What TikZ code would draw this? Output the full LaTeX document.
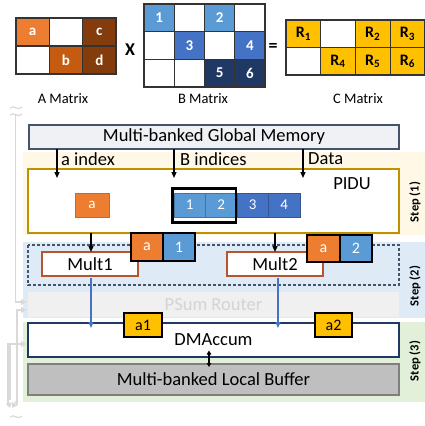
\documentclass[tikz,border=0pt]{standalone}
\usepackage{fontspec}
\setmainfont{Carlito}
\usetikzlibrary{arrows.meta}
\definecolor{cA}{HTML}{ED7D31}
\definecolor{cB}{HTML}{C55A11}
\definecolor{cC}{HTML}{843C0C}
\definecolor{bA}{HTML}{5B9BD5}
\definecolor{bB}{HTML}{4472C4}
\definecolor{bC}{HTML}{1F3864}
\definecolor{gold}{HTML}{FFC000}
\definecolor{ybg}{HTML}{FFF8E6}
\definecolor{bbg}{HTML}{DEEBF7}
\definecolor{gbg}{HTML}{E2F0D9}
\definecolor{gmfill}{HTML}{F0F1F4}
\definecolor{slate}{HTML}{44546A}
\definecolor{piduc}{HTML}{BF9000}
\definecolor{multc}{HTML}{B4552D}
\definecolor{psumf}{HTML}{F0F0F0}
\definecolor{psumt}{HTML}{D4D4D4}
\definecolor{lbf}{HTML}{BFBFBF}
\definecolor{lbd}{HTML}{7F7F7F}
\definecolor{ghost}{HTML}{D9D9D9}
\newcommand\szBig{\fontsize{18.5}{20}\selectfont}
\newcommand\szLab{\fontsize{14.5}{16}\selectfont}
\newcommand\szCell{\fontsize{15}{16}\selectfont}
\begin{document}
\begin{tikzpicture}[x=1pt,y=-1pt,
  box/.style={inner sep=0pt, outer sep=0pt, anchor=north west},
  mcell/.style={box, draw=black!80, line width=1.2pt, text=white, font=\bfseries\szCell},
  acell/.style={mcell, minimum width=33.33pt, minimum height=28pt},
  bcell/.style={mcell, minimum width=30.25pt, minimum height=27.67pt},
  ccell/.style={mcell, minimum width=34.7pt, minimum height=27.5pt, text=black, font=\bfseries\fontsize{16}{17}\selectfont},
  lab/.style={font=\szLab, inner sep=0pt},
  big/.style={font=\szBig, inner sep=0pt},
  arr/.style={line width=1.3pt, -{Triangle[length=6pt,width=5pt]}},
  barr/.style={line width=1.3pt, bB, -{Triangle[length=6pt,width=5pt]}},
  garr/.style={line width=1.2pt, ghost, -{Triangle[length=5pt,width=6pt]}},
  gline/.style={line width=1.2pt, ghost},
  tok/.style={box, minimum height=24pt, text=white, font=\szCell},
  stepl/.style={rotate=90, font=\bfseries\fontsize{12.5}{13}\selectfont, inner sep=0pt}
]
\useasboundingbox (0,0) rectangle (425,426);

% ---------- matrices ----------
\node[acell,fill=cA] (a11) at (16,18) {a};
\node[acell] (a12) at (49.33,18) {};
\node[acell,fill=cC] (a13) at (82.67,18) {c};
\node[acell] (a21) at (16,46) {};
\node[acell,fill=cB] (a22) at (49.33,46) {b};
\node[acell,fill=cC] (a23) at (82.67,46) {d};
\node[font=\bfseries\fontsize{18}{18}\selectfont, inner sep=0pt] (times) at (130,50) {X};
\node[lab] (alab) at (63,99) {A Matrix};

\node[bcell,fill=bA] (b11) at (144,4) {1};
\node[bcell] (b12) at (174.25,4) {};
\node[bcell,fill=bA] (b13) at (204.5,4) {2};
\node[bcell] (b14) at (234.75,4) {};
\node[bcell] (b21) at (144,31.67) {};
\node[bcell,fill=bB] (b22) at (174.25,31.67) {3};
\node[bcell] (b23) at (204.5,31.67) {};
\node[bcell,fill=bB] (b24) at (234.75,31.67) {4};
\node[bcell] (b31) at (144,59.33) {};
\node[bcell] (b32) at (174.25,59.33) {};
\node[bcell,fill=bC] (b33) at (204.5,59.33) {5};
\node[bcell,fill=bC] (b34) at (234.75,59.33) {6};
\node[font=\bfseries\fontsize{18}{18}\selectfont, inner sep=0pt] (eq) at (273,47) {=};
\node[lab] (blab) at (203,99) {B Matrix};

\node[ccell,fill=gold] (c11) at (286,20) {R\textsubscript{1}};
\node[ccell] (c12) at (320.7,20) {};
\node[ccell,fill=gold] (c13) at (355.4,20) {R\textsubscript{2}};
\node[ccell,fill=gold] (c14) at (390.1,20) {R\textsubscript{3}};
\node[ccell] (c21) at (286,47.5) {};
\node[ccell,fill=gold] (c22) at (320.7,47.5) {R\textsubscript{4}};
\node[ccell,fill=gold] (c23) at (355.4,47.5) {R\textsubscript{5}};
\node[ccell,fill=gold] (c24) at (390.1,47.5) {R\textsubscript{6}};
\node[lab] (clab) at (358,99) {C Matrix};

% ---------- step backgrounds ----------
\fill[ybg] (23,152) rectangle (425,235);
\fill[bbg] (23,242) rectangle (425,318);
\fill[gbg] (23,322) rectangle (425,402);

% ---------- ghost lines on the left ----------
\draw[gline] (10,108) .. controls (14,104) and (18,112) .. (22,107);
\draw[gline] (10,115) .. controls (14,111) and (18,119) .. (22,114);
\coordinate (g1) at (26,302);
\coordinate (g2) at (26,310);
\coordinate (g3) at (26,344);
\draw[garr] (15.5,115) |- (g1);
\draw[garr] (17,405) |- (g2);
\draw[garr] (8,405) |- (g3);
\draw[gline] (10,344) -- (10,400);
\draw[garr] (17,400) -- (12,408);
\draw[garr] (8,400) -- (10,408);
\draw[gline] (10,417) .. controls (14,413) and (18,421) .. (22,416);

% ---------- global memory ----------
\node[box, draw=slate, line width=1.2pt, fill=gmfill, minimum width=370pt, minimum height=24pt, font=\szBig] (gm) at (29,125) {Multi-banked Global Memory};

% ---------- PIDU ----------
\node[box, draw=piduc, line width=1.2pt, fill=white, minimum width=371pt, minimum height=64pt] (pidu) at (28,169) {};
\node[big] (pidul) at (352,184) {PIDU};
\coordinate (t1) at (57,178);
\coordinate (t2) at (174,178);
\coordinate (t3) at (303,178);
\draw[arr] (gm.south -| t1) -- (t1);
\draw[arr] (gm.south -| t2) -- (t2);
\draw[arr] (gm.south -| t3) -- (t3);
\node[big, anchor=west] (l1) at (61,159) {a index};
\node[big, anchor=west] (l2) at (180,159) {B indices};
\node[big, anchor=west] (l3) at (308,159) {Data};

\node[tok, fill=cA, draw=cA!85!black, minimum width=34pt] (pa) at (75,193) {a};
\node[tok, fill=bA, draw=bA!75!black, minimum width=31.5pt] (p1) at (174,193) {1};
\node[tok, fill=bA, draw=bA!75!black, minimum width=31.5pt] (p2) at (205.5,193) {2};
\node[tok, fill=bB, draw=bB!75!black, minimum width=31.5pt] (p3) at (237,193) {3};
\node[tok, fill=bB, draw=bB!75!black, minimum width=31.5pt] (p4) at (268.5,193) {4};
\draw[line width=2.5pt] (172.5,188.5) rectangle (236,222.5);

% ---------- multipliers ----------
\draw[slate, dash pattern=on 3pt off 2pt, line width=1.1pt] (28,245) rectangle (399,285);
\node[box, draw=multc, line width=1.1pt, fill=white, minimum width=96pt, minimum height=24pt, font=\szBig] (m1) at (42,252) {Mult1};
\node[box, draw=multc, line width=1.1pt, fill=white, minimum width=96pt, minimum height=24pt, font=\szBig] (m2) at (227,252) {Mult2};
\draw[arr] (pidu.south -| 91,0) -- (m1.north -| 91,0);
\draw[arr] (pidu.south -| 275,0) -- (m2.north -| 275,0);
\node[tok, fill=cA, draw=black, line width=1.2pt, minimum width=32pt, minimum height=28pt, font=\fontsize{16}{16}\selectfont] (ma1) at (131,233) {a};
\node[tok, fill=bA, draw=black, line width=1.2pt, minimum width=32pt, minimum height=28pt, font=\fontsize{16}{16}\selectfont] (mb1) at (163,233) {1};
\node[tok, fill=cA, draw=black, line width=1.2pt, minimum width=33pt, minimum height=27pt, font=\fontsize{16}{16}\selectfont] (ma2) at (307,235) {a};
\node[tok, fill=bA, draw=black, line width=1.2pt, minimum width=32pt, minimum height=27pt, font=\fontsize{16}{16}\selectfont] (mb2) at (340,235) {2};

% ---------- PSum router ----------
\node[box, fill=psumf, minimum width=371pt, minimum height=25pt, text=psumt, font=\szBig] (psum) at (28,292) {PSum Router};

% ---------- DMAccum ----------
\node[box, draw=bC, line width=1.2pt, fill=white, minimum width=371pt, minimum height=34pt, font=\szBig] (dm) at (28,323) {DMAccum};
\coordinate (d1) at (91,328);
\coordinate (d2) at (278,328);
\draw[barr] (m1.south -| d1) ++(0,2) -- (d1);
\draw[barr] (m2.south -| d2) ++(0,2) -- (d2);
\node[box, fill=gold, draw=black, line width=1.2pt, minimum width=38pt, minimum height=24pt, font=\fontsize{16}{16}\selectfont] (s1) at (124,313) {a1};
\node[box, fill=gold, draw=black, line width=1.2pt, minimum width=37pt, minimum height=24pt, font=\fontsize{16}{16}\selectfont] (s2) at (315,313) {a2};

% ---------- local buffer ----------
\node[box, draw=lbd, line width=1.2pt, fill=lbf, minimum width=371pt, minimum height=31pt, font=\szBig] (lb) at (28,364) {Multi-banked Local Buffer};
\coordinate (u1) at (209,350.5);
\coordinate (u2) at (209,367);
\draw[line width=1.2pt, {Triangle[length=4pt,width=4.5pt]}-{Triangle[length=4pt,width=4.5pt]}] (u1) -- (u2);

% ---------- step labels ----------
\node[stepl] (st1) at (415,202) {Step (1)};
\node[stepl] (st2) at (415,286) {Step (2)};
\node[stepl] (st3) at (415,361) {Step (3)};
\end{tikzpicture}
\end{document}
